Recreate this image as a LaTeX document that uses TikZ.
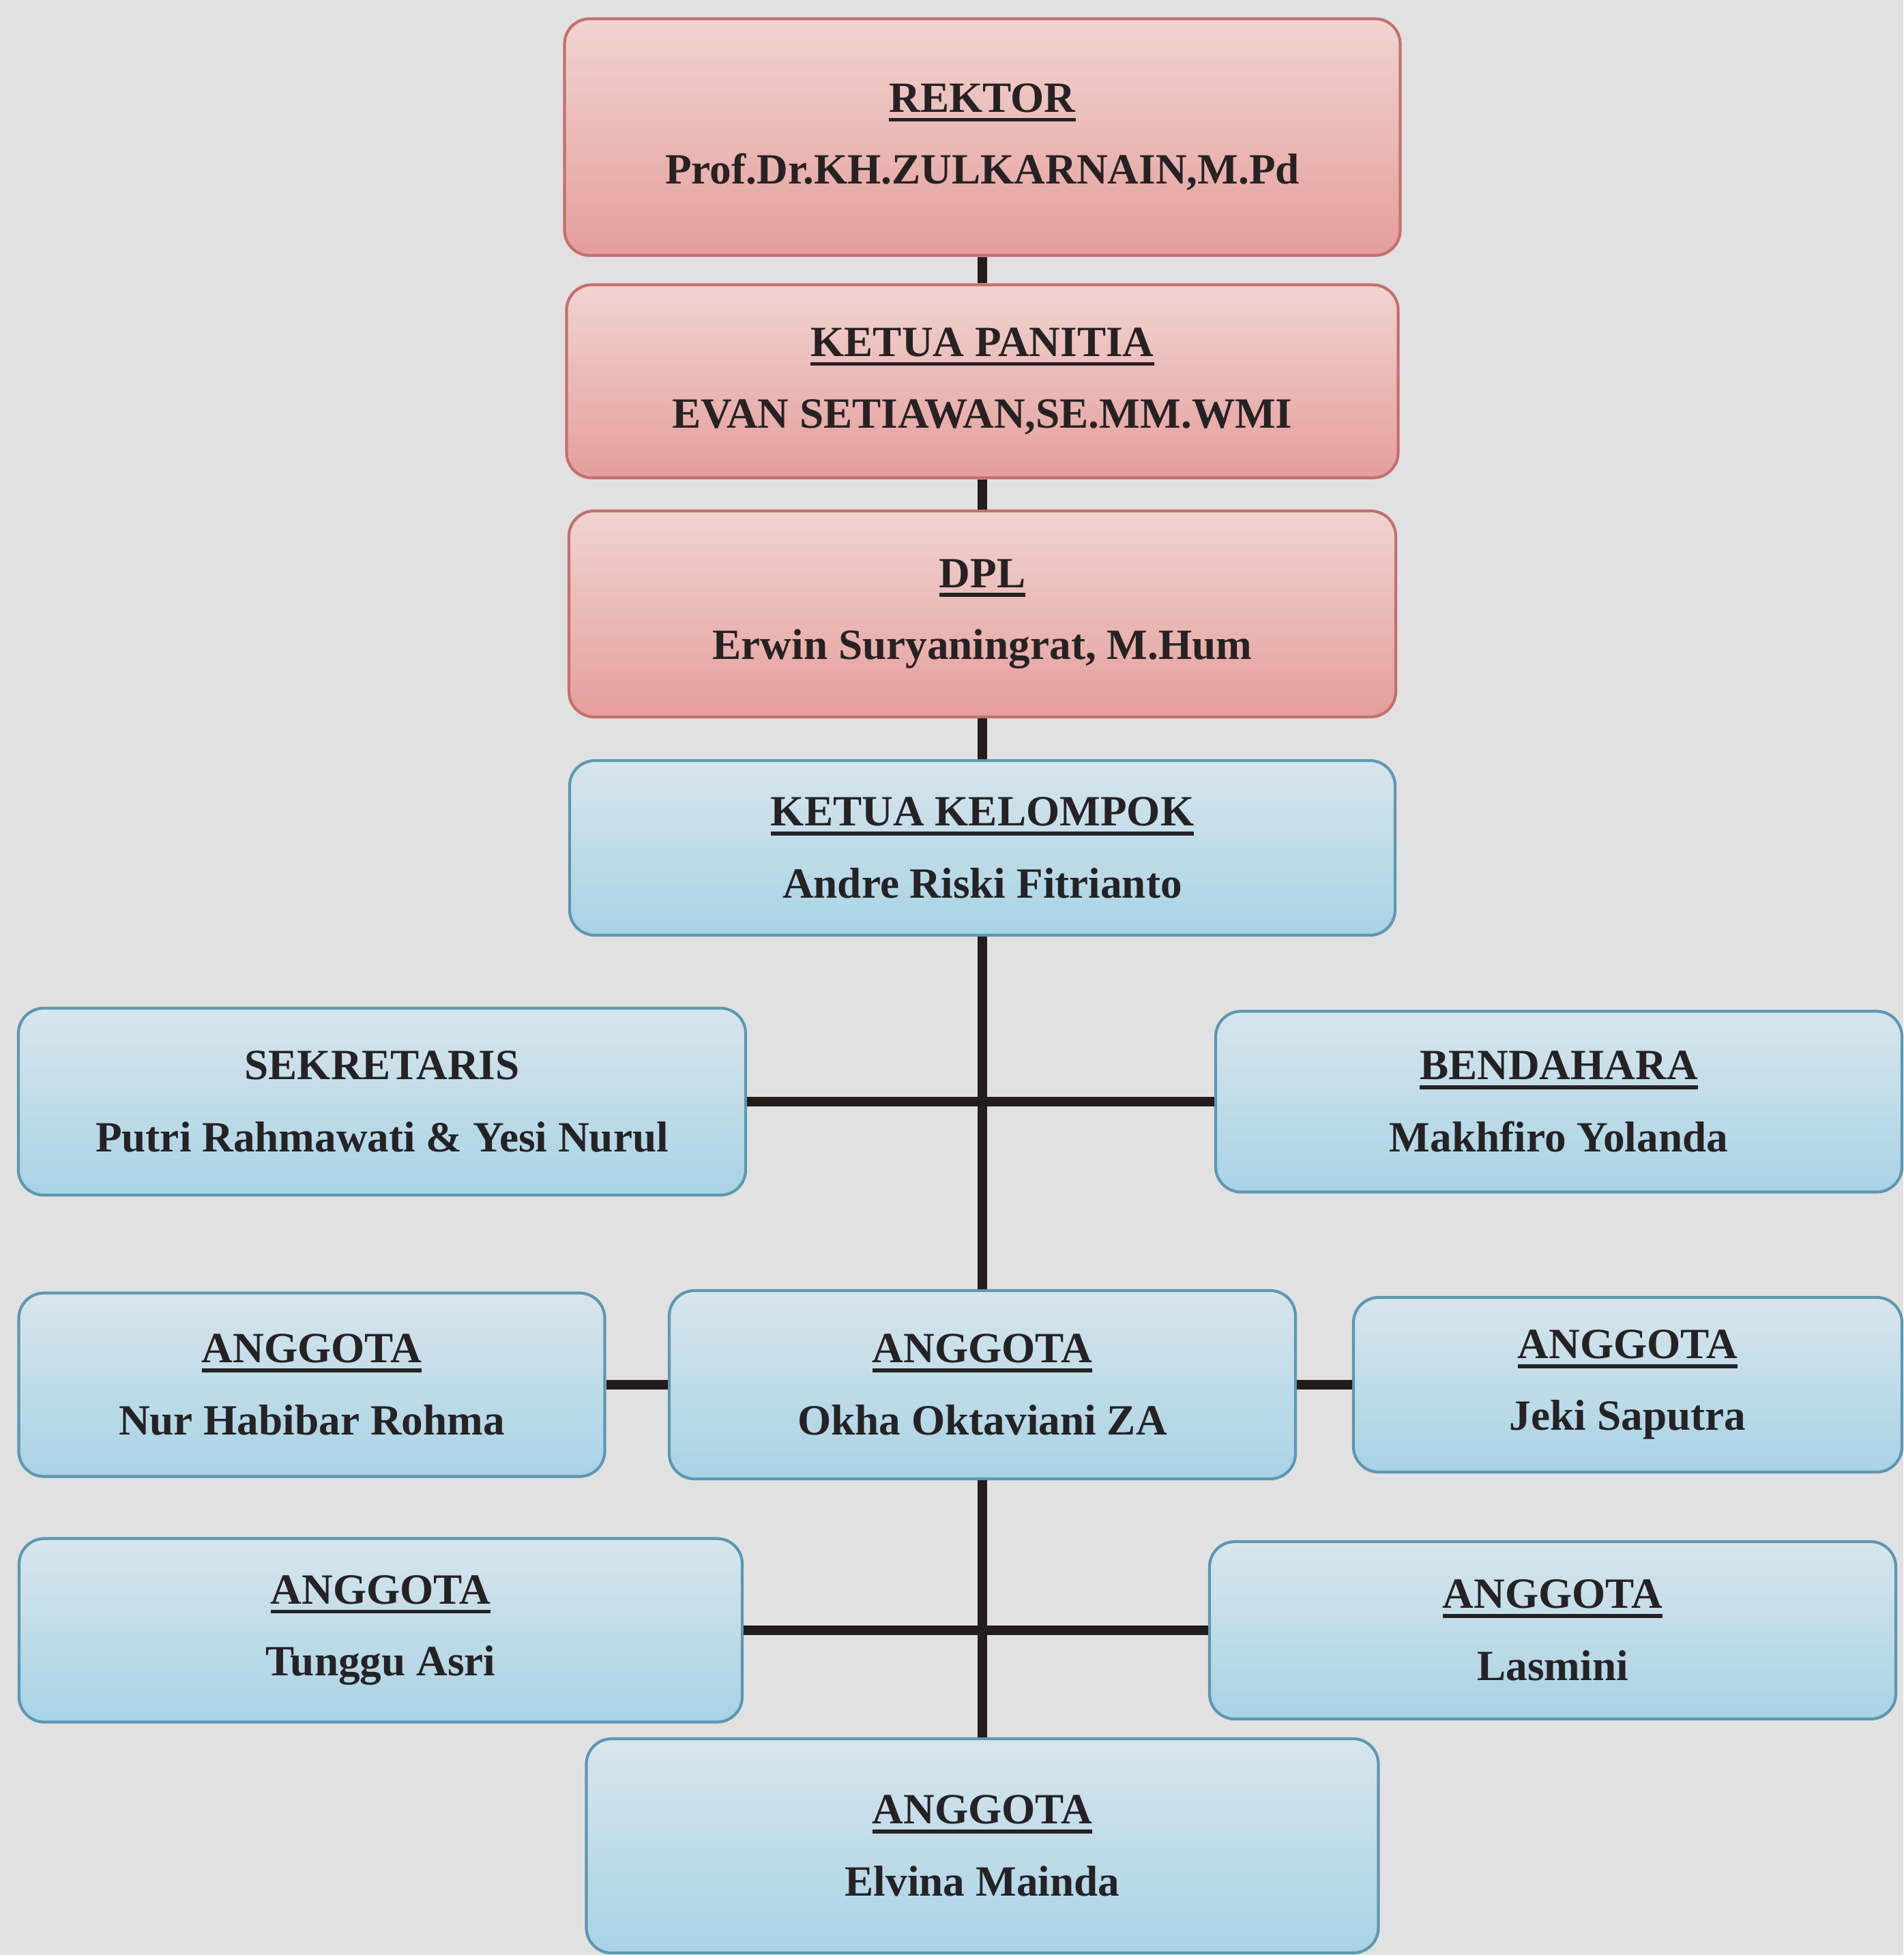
\documentclass[tikz,border=0pt]{standalone}
\usepackage{fontspec}
\setmainfont{Liberation Serif}
\definecolor{latar}{RGB}{226,225,226}
\definecolor{merahatas}{RGB}{240,212,208}
\definecolor{merahbawah}{RGB}{229,158,156}
\definecolor{merahgaris}{RGB}{196,112,110}
\definecolor{biruatas}{RGB}{216,229,236}
\definecolor{birubawah}{RGB}{168,211,230}
\definecolor{birugaris}{RGB}{92,152,178}
\definecolor{teks}{RGB}{38,34,36}
\definecolor{hitam}{RGB}{36,28,26}
\newcommand{\judul}[1]{\setbox0\hbox{#1}\rlap{\rule[-4pt]{\wd0}{1.6pt}}\box0}
\begin{document}
\begin{tikzpicture}[align=center, font=\bfseries\fontsize{18}{30}\selectfont]
\tikzstyle{kotak}=[draw, rounded corners=0.37cm, line width=1.2pt, inner sep=0pt, text=teks]
\tikzstyle{merah}=[kotak, draw=merahgaris, top color=merahatas, bottom color=merahbawah]
\tikzstyle{biru}=[kotak, draw=birugaris, top color=biruatas, bottom color=birubawah]
\tikzstyle{garis}=[line width=4pt, draw=hitam]
\fill[latar] (0,0) rectangle (27.9,-28.66);
\node[merah, minimum width=12.25cm, minimum height=3.47cm] (rektor) at (14.4,-2.01) {\judul{REKTOR}\\Prof.Dr.KH.ZULKARNAIN,M.Pd};
\node[merah, minimum width=12.19cm, minimum height=2.83cm] (panitia) at (14.4,-5.59) {\judul{KETUA PANITIA}\\EVAN SETIAWAN,SE.MM.WMI};
\node[merah, minimum width=12.12cm, minimum height=3.02cm] (dpl) at (14.4,-9.0) {\judul{DPL}\\Erwin Suryaningrat, M.Hum};
\node[biru, minimum width=12.10cm, minimum height=2.56cm] (kelompok) at (14.4,-12.43) {\judul{KETUA KELOMPOK}\\Andre Riski Fitrianto};
\node[biru, minimum width=10.66cm, minimum height=2.74cm] (sekretaris) at (5.6,-16.15) {SEKRETARIS\\Putri Rahmawati \& Yesi Nurul};
\node[biru, minimum width=10.06cm, minimum height=2.65cm] (bendahara) at (22.85,-16.15) {\judul{BENDAHARA}\\Makhfiro Yolanda};
\node[biru, minimum width=8.59cm, minimum height=2.69cm] (nur) at (4.57,-20.3) {\judul{ANGGOTA}\\Nur Habibar Rohma};
\node[biru, minimum width=9.18cm, minimum height=2.76cm] (okha) at (14.4,-20.3) {\judul{ANGGOTA}\\Okha Oktaviani ZA};
\node[biru, minimum width=8.04cm, minimum height=2.56cm] (jeki) at (23.86,-20.3) {\judul{ANGGOTA}\\Jeki Saputra};
\node[biru, minimum width=10.60cm, minimum height=2.69cm] (tunggu) at (5.58,-23.9) {\judul{ANGGOTA}\\Tunggu Asri};
\node[biru, minimum width=10.06cm, minimum height=2.60cm] (lasmini) at (22.76,-23.9) {\judul{ANGGOTA}\\Lasmini};
\node[biru, minimum width=11.61cm, minimum height=3.14cm] (elvina) at (14.4,-27.06) {\judul{ANGGOTA}\\Elvina Mainda};
\draw[garis] (rektor) -- (panitia) -- (dpl) -- (kelompok) -- (okha) -- (elvina);
\draw[garis] (sekretaris) -- (bendahara);
\draw[garis] (nur) -- (okha) -- (jeki);
\draw[garis] (tunggu) -- (lasmini);
\end{tikzpicture}
\end{document}
